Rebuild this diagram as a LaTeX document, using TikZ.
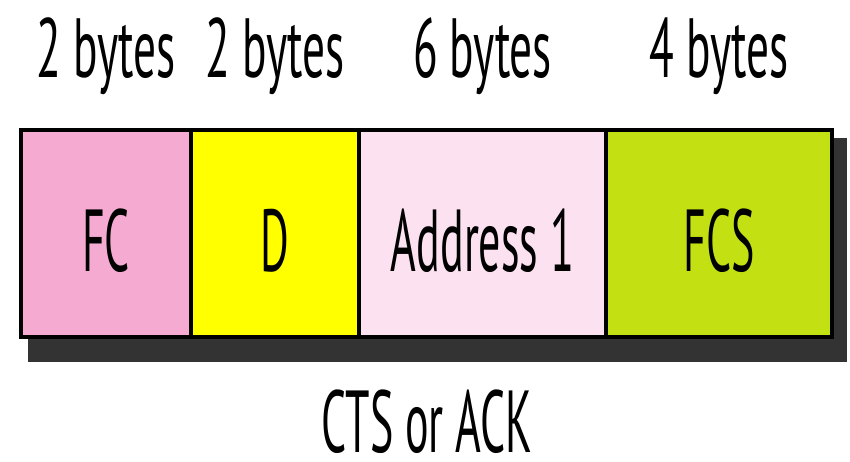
\documentclass[tikz,border=0pt]{standalone}
\usepackage{fontspec}
\setmainfont{PT Sans}
\definecolor{fcpink}{HTML}{F5AAD2}
\definecolor{dyellow}{HTML}{FFFF00}
\definecolor{addrpink}{HTML}{FCE1F0}
\definecolor{fcslime}{HTML}{C2E012}
\definecolor{shadowgray}{HTML}{333333}
% condensed text: fixed size, squeezed horizontally, no depth
\newcommand{\narrowtext}[3]{\raisebox{0pt}[\height][0pt]{\scalebox{#2}[1]{\fontsize{#1}{#1}\selectfont #3}}}
\tikzset{
  field/.style={draw=black, line width=3.5pt, inner sep=0pt, outer sep=0pt, minimum height=207pt},
  fieldtext/.style={anchor=base, inner sep=0pt},
  sizetext/.style={anchor=base, inner sep=0pt}
}
\begin{document}
\begin{tikzpicture}[x=1pt,y=1pt]
  \useasboundingbox (0,0) rectangle (850,462);
  \fill[white] (0,0) rectangle (850,462);
  % drop shadow behind the frame
  \fill[shadowgray] (28,100) rectangle (847,324);
  % frame fields
  \node[field, fill=fcpink,   minimum width=170pt, anchor=north west] (fc)   at (21,332) {};
  \node[field, fill=dyellow,  minimum width=168pt, anchor=north west] (d)    at (fc.north east) {};
  \node[field, fill=addrpink, minimum width=247pt, anchor=north west] (addr) at (d.north east) {};
  \node[field, fill=fcslime,  minimum width=226pt, anchor=north west] (fcs)  at (addr.north east) {};
  % field names
  \node[fieldtext] (tfc)   at ([yshift=-142pt]fc.north)   {\narrowtext{88pt}{0.5}{FC}};
  \node[fieldtext] (td)    at ([yshift=-142pt]d.north)    {\narrowtext{88pt}{0.5}{D}};
  \node[fieldtext] (taddr) at ([yshift=-142pt]addr.north) {\narrowtext{88pt}{0.5}{Address 1}};
  \node[fieldtext] (tfcs)  at ([yshift=-142pt]fcs.north)  {\narrowtext{88pt}{0.5}{FCS}};
  % field sizes
  \node[sizetext] (sfc)   at (fc.north |- 0,384)   {\narrowtext{84pt}{0.54}{2 bytes}};
  \node[sizetext] (sd)    at (d.north |- 0,384)    {\narrowtext{84pt}{0.54}{2 bytes}};
  \node[sizetext] (saddr) at (addr.north |- 0,384) {\narrowtext{84pt}{0.54}{6 bytes}};
  \node[sizetext] (sfcs)  at (fcs.north |- 0,384)  {\narrowtext{84pt}{0.54}{4 bytes}};
  % caption
  \node[sizetext] (cap) at (427,9) {\narrowtext{88pt}{0.5}{CTS or ACK}};
\end{tikzpicture}
\end{document}
